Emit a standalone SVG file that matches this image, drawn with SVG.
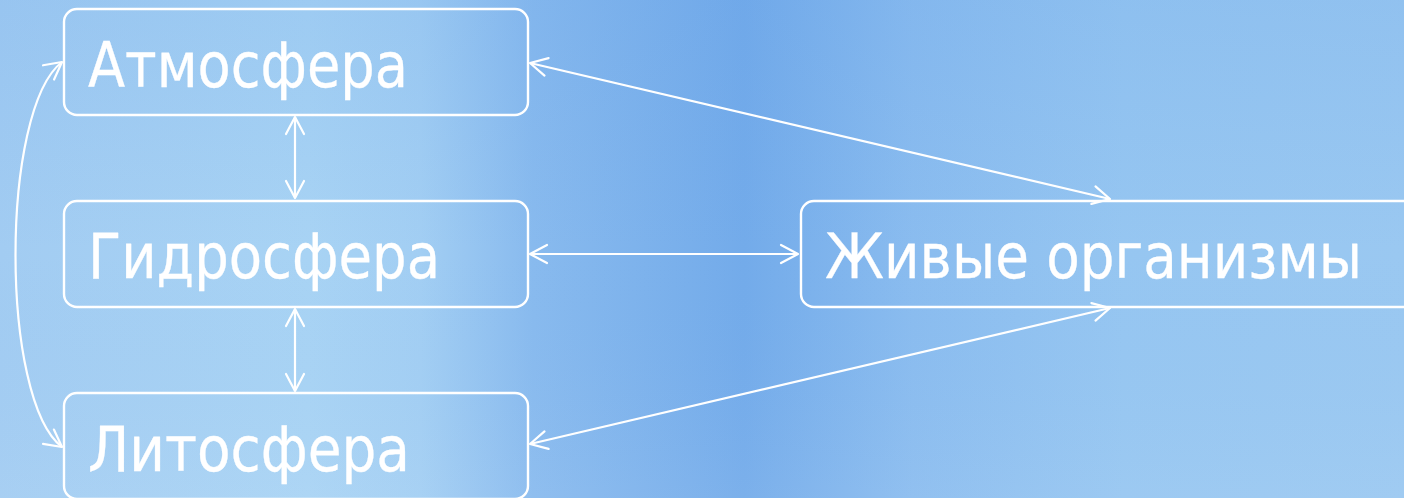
<svg xmlns="http://www.w3.org/2000/svg" width="1404" height="498" viewBox="0 0 1404 498">
  <defs>
    <linearGradient id="bgH" x1="0" y1="0" x2="1404" y2="0" gradientUnits="userSpaceOnUse">
      <stop offset="0" stop-color="#a2ccf2"/>
      <stop offset="0.22" stop-color="#a8d3f4"/>
      <stop offset="0.30" stop-color="#a2cef3"/>
      <stop offset="0.38" stop-color="#88baee"/>
      <stop offset="0.53" stop-color="#73abea"/>
      <stop offset="0.65" stop-color="#8abcef"/>
      <stop offset="0.80" stop-color="#96c6f1"/>
      <stop offset="1" stop-color="#9ac8f1"/>
    </linearGradient>
    <linearGradient id="bgV" x1="0" y1="0" x2="0" y2="498" gradientUnits="userSpaceOnUse">
      <stop offset="0" stop-color="#5d9be6" stop-opacity="0.15"/>
      <stop offset="0.5" stop-color="#5d9be6" stop-opacity="0"/>
      <stop offset="1" stop-color="#ffffff" stop-opacity="0.06"/>
    </linearGradient>
    <marker id="arrow" viewBox="-20 -12 24 24" markerWidth="24" markerHeight="24" refX="0" refY="0" markerUnits="userSpaceOnUse" orient="auto-start-reverse">
      <path d="M -17 -9 L 0 0 L -17 9" fill="none" stroke="#ffffff" stroke-width="2.2" stroke-linecap="round" stroke-linejoin="round"/>
    </marker>
    <style>
      .box { fill: none; stroke: #ffffff; stroke-width: 2.4; }
      .label { fill: #ffffff; stroke: #ffffff; stroke-width: 0.3; font-family: "DejaVu Sans Condensed", "DejaVu Sans", sans-serif; font-size: 63px; font-stretch: condensed; }
      .link { fill: none; stroke: #ffffff; stroke-width: 2.2; marker-start: url(#arrow); marker-end: url(#arrow); }
    </style>
  </defs>

  <!-- sky-blue backdrop -->
  <rect x="0" y="0" width="1404" height="498" fill="url(#bgH)"/>
  <rect x="0" y="0" width="1404" height="498" fill="url(#bgV)"/>

  <!-- connectors -->
  <g id="connectors">
    <line class="link" x1="295" y1="117" x2="295" y2="198"/>
    <line class="link" x1="295" y1="309" x2="295" y2="391"/>
    <line class="link" x1="530" y1="254" x2="798" y2="254"/>
    <line class="link" x1="530" y1="63" x2="1110" y2="199"/>
    <line class="link" x1="530" y1="444" x2="1110" y2="308"/>
    <path class="link" d="M 62 62 C 0 110, 0 400, 62 447"/>
  </g>

  <g id="atmosphere">
    <rect class="box" x="64" y="9" width="464" height="106" rx="13"/>
    <text class="label" x="88" y="87" textLength="320" lengthAdjust="spacingAndGlyphs">Атмосфера</text>
  </g>

  <g id="hydrosphere">
    <rect class="box" x="64" y="201" width="464" height="106" rx="13"/>
    <text class="label" x="88" y="278" textLength="352" lengthAdjust="spacingAndGlyphs">Гидросфера</text>
  </g>

  <g id="lithosphere">
    <rect class="box" x="64" y="393" width="464" height="106" rx="13"/>
    <text class="label" x="88" y="471" textLength="322" lengthAdjust="spacingAndGlyphs">Литосфера</text>
  </g>

  <g id="living-organisms">
    <rect class="box" x="801" y="201" width="640" height="106" rx="13"/>
    <text class="label" x="825" y="278" textLength="537" lengthAdjust="spacingAndGlyphs">Живые организмы</text>
  </g>
</svg>
